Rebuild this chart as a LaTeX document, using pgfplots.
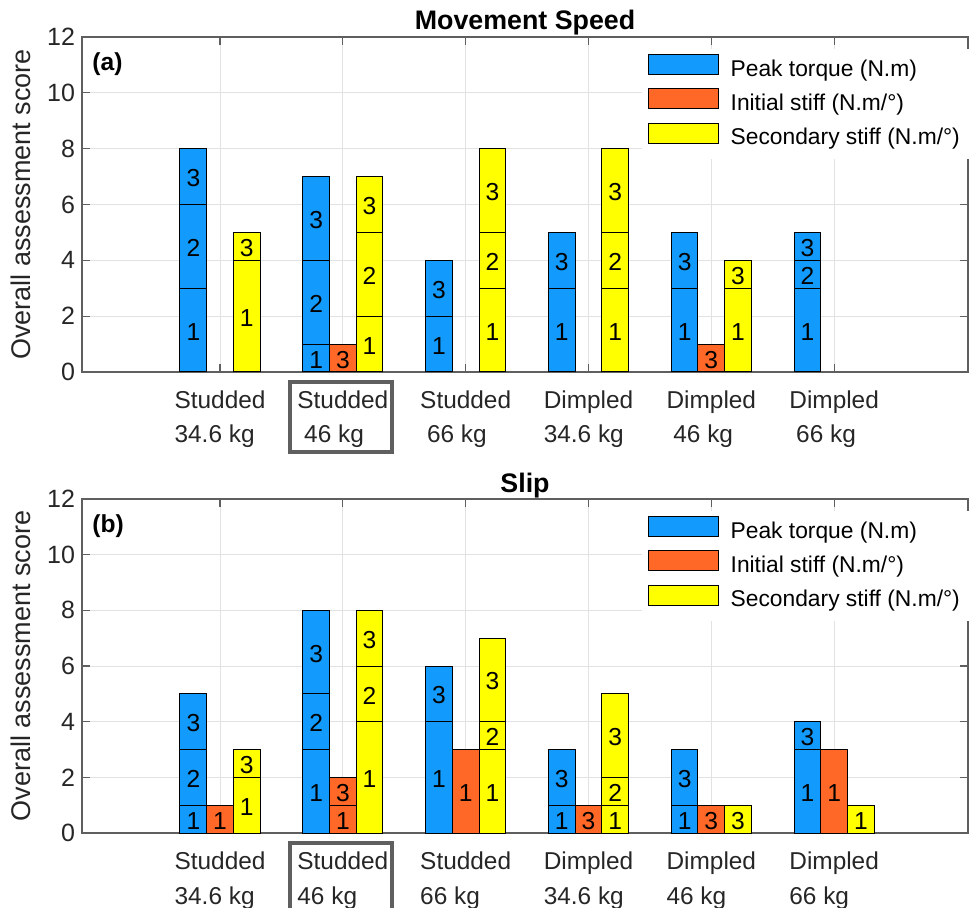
\documentclass[border=0pt]{standalone}
\usepackage{pgfplots}
\pgfplotsset{compat=1.18}
\usepackage{fontspec}
\setmainfont{Liberation Sans}
\definecolor{cblue}{RGB}{18,155,253}
\definecolor{corange}{RGB}{255,104,38}
\definecolor{cyellow}{RGB}{255,255,0}
\definecolor{axgray}{RGB}{95,95,95}
\definecolor{gridgray}{RGB}{226,226,226}
\definecolor{txt}{RGB}{38,38,38}
\newcommand{\cat}[2]{\begin{tabular}[t]{@{}l@{}}#1\\#2\end{tabular}}
\pgfplotsset{
  panel/.style={
    scale only axis, width=443pt,
    xmin=-0.124, xmax=7.09, ymin=0, ymax=12,
    ytick={0,2,...,12}, xtick={1,...,6},
    grid=major, major grid style={gridgray, line width=0.5pt},
    axis line style={axgray, line width=0.6pt},
    major tick style={axgray, line width=0.6pt},
    major tick length=4pt, tick align=inside,
    /pgf/number format/assume math mode=true,
    yticklabel style={font=\fontsize{12.5}{15}\selectfont, text=txt},
    xticklabel style={font=\fontsize{12.2}{17.5}\selectfont, text=txt, anchor=base, yshift=-18pt},
    ylabel={Overall assessment score},
    ylabel style={font=\fontsize{13.5}{16}\selectfont, text=txt, at={([xshift=-30.5pt]rel axis cs:0,0.5)}, anchor=center, inner sep=0pt},
    title style={font=\bfseries\fontsize{13.4}{16}\selectfont, at={(rel axis cs:0.5,1)}, anchor=base, yshift=-2.5pt},
    clip=false,
    legend image code/.code={\draw[#1] (0pt,-2.5pt) rectangle (35pt,7.5pt); \path (37pt,0pt);},
    legend cell align=left,
    legend style={at={(rel axis cs:0.632,0.966)}, anchor=north west, draw=none, fill=white,
      font=\fontsize{11.4}{13.7}\selectfont, row sep=0pt, inner xsep=3pt, inner ysep=2pt,
      nodes={inner sep=3.65pt, text depth=0.15em}},
  },
  bars/.style={ybar, bar width=13.35pt, draw=black, line width=0.5pt, forget plot},
  lbl/.style={only marks, mark=none, forget plot, nodes near coords, point meta=explicit symbolic,
    nodes near coords align={anchor=center},
    every node near coord/.append style={font=\fontsize{12.3}{14}\selectfont, text=black, inner sep=0pt, xshift=#1, yshift=-0.8pt}},
}
\begin{document}
\begin{tikzpicture}
% ---------------- (a) Movement Speed ----------------
\begin{axis}[panel, height=167.5pt, at={(41pt,-186pt)}, anchor=south west,
  title={Movement Speed},
  xticklabels={{\cat{Studded}{34.6 kg}},{\cat{Studded}{\hspace*{3.4pt}46 kg}},{\cat{Studded}{\hspace*{3.4pt}66 kg}},{\cat{Dimpled}{34.6 kg}},{\cat{Dimpled}{\hspace*{3.4pt}46 kg}},{\cat{Dimpled}{\hspace*{3.4pt}66 kg}}}]
\addplot[bars, fill=cblue, bar shift=-13.35pt] coordinates {(1,8) (2,7) (3,4) (4,5) (5,5) (6,5)};
\addplot[bars, fill=cblue, bar shift=-13.35pt] coordinates {(1,6) (2,4) (3,2) (4,3) (5,3) (6,4)};
\addplot[bars, fill=cblue, bar shift=-13.35pt] coordinates {(1,3) (2,1) (6,3)};
\addplot[bars, fill=corange, bar shift=0pt] coordinates {(2,1) (5,1)};
\addplot[bars, fill=cyellow, bar shift=13.35pt] coordinates {(1,5) (2,7) (3,8) (4,8) (5,4)};
\addplot[bars, fill=cyellow, bar shift=13.35pt] coordinates {(1,4) (2,5) (3,5) (4,5) (5,3)};
\addplot[bars, fill=cyellow, bar shift=13.35pt] coordinates {(2,2) (3,3) (4,3)};
\addplot[lbl=-13.35pt] table[meta=l] {
x y l
1 1.5 1
1 4.5 2
1 7 3
2 0.5 1
2 2.5 2
2 5.5 3
3 1 1
3 3 3
4 1.5 1
4 4 3
5 1.5 1
5 4 3
6 1.5 1
6 3.5 2
6 4.5 3
};
\addplot[lbl=0pt] table[meta=l] {
x y l
2 0.5 3
5 0.5 3
};
\addplot[lbl=13.35pt] table[meta=l] {
x y l
1 2 1
1 4.5 3
2 1 1
2 3.5 2
2 6 3
3 1.5 1
3 4 2
3 6.5 3
4 1.5 1
4 4 2
4 6.5 3
5 1.5 1
5 3.5 3
};
\addlegendimage{fill=cblue, draw=black, line width=0.5pt}
\addlegendentry{Peak torque (N.m)}
\addlegendimage{fill=corange, draw=black, line width=0.5pt}
\addlegendentry{Initial stiff (N.m/°)}
\addlegendimage{fill=cyellow, draw=black, line width=0.5pt}
\addlegendentry{Secondary stiff (N.m/°)}
\node[anchor=base west, font=\bfseries\fontsize{12.3}{14}\selectfont, inner sep=0pt] at (rel axis cs:0,1) [xshift=5pt, yshift=-16.8pt] {(a)};
\draw[axgray, line width=1.75pt] (axis cs:1.568,-0.358) rectangle (axis cs:2.399,-2.865);
\end{axis}
% ---------------- (b) Slip ----------------
\begin{axis}[panel, height=167pt, at={(41pt,-416.5pt)}, anchor=south west,
  title={Slip},
  xticklabels={{\cat{Studded}{34.6 kg}},{\cat{Studded}{46 kg}},{\cat{Studded}{66 kg}},{\cat{Dimpled}{34.6 kg}},{\cat{Dimpled}{46 kg}},{\cat{Dimpled}{66 kg}}}]
\addplot[bars, fill=cblue, bar shift=-13.35pt] coordinates {(1,5) (2,8) (3,6) (4,3) (5,3) (6,4)};
\addplot[bars, fill=cblue, bar shift=-13.35pt] coordinates {(1,3) (2,5) (3,4) (4,1) (5,1) (6,3)};
\addplot[bars, fill=cblue, bar shift=-13.35pt] coordinates {(1,1) (2,3)};
\addplot[bars, fill=corange, bar shift=0pt] coordinates {(1,1) (2,2) (3,3) (4,1) (5,1) (6,3)};
\addplot[bars, fill=corange, bar shift=0pt] coordinates {(2,1)};
\addplot[bars, fill=cyellow, bar shift=13.35pt] coordinates {(1,3) (2,8) (3,7) (4,5) (5,1) (6,1)};
\addplot[bars, fill=cyellow, bar shift=13.35pt] coordinates {(1,2) (2,6) (3,4) (4,2)};
\addplot[bars, fill=cyellow, bar shift=13.35pt] coordinates {(2,4) (3,3) (4,1)};
\addplot[lbl=-13.35pt] table[meta=l] {
x y l
1 0.5 1
1 2 2
1 4 3
2 1.5 1
2 4 2
2 6.5 3
3 2 1
3 5 3
4 0.5 1
4 2 3
5 0.5 1
5 2 3
6 1.5 1
6 3.5 3
};
\addplot[lbl=0pt] table[meta=l] {
x y l
1 0.5 1
2 0.5 1
2 1.5 3
3 1.5 1
4 0.5 3
5 0.5 3
6 1.5 1
};
\addplot[lbl=13.35pt] table[meta=l] {
x y l
1 1 1
1 2.5 3
2 2 1
2 5 2
2 7 3
3 1.5 1
3 3.5 2
3 5.5 3
4 0.5 1
4 1.5 2
4 3.5 3
5 0.5 3
6 0.5 1
};
\addlegendimage{fill=cblue, draw=black, line width=0.5pt}
\addlegendentry{Peak torque (N.m)}
\addlegendimage{fill=corange, draw=black, line width=0.5pt}
\addlegendentry{Initial stiff (N.m/°)}
\addlegendimage{fill=cyellow, draw=black, line width=0.5pt}
\addlegendentry{Secondary stiff (N.m/°)}
\node[anchor=base west, font=\bfseries\fontsize{12.3}{14}\selectfont, inner sep=0pt] at (rel axis cs:0,1) [xshift=5pt, yshift=-16.8pt] {(b)};
\draw[axgray, line width=1.75pt] (axis cs:1.568,-0.358) rectangle (axis cs:2.399,-2.865);
\end{axis}
\pgfresetboundingbox
\path[use as bounding box] (0,0) rectangle (486.5pt,-454pt);
\end{tikzpicture}
\end{document}
